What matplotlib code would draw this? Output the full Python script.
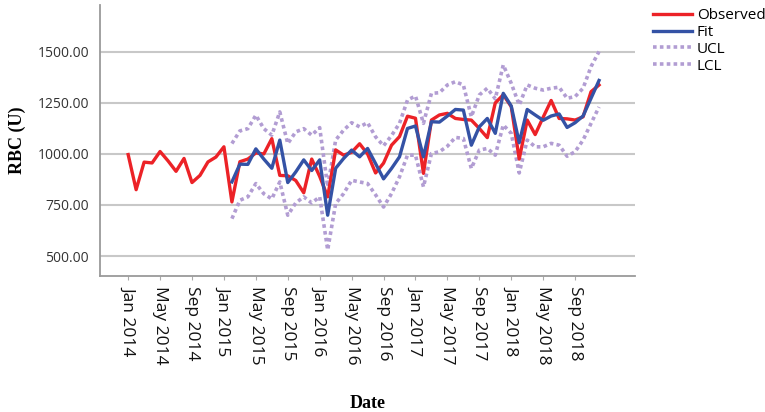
import numpy as np
import matplotlib.pyplot as plt

# monthly data, Jan 2014 .. Dec 2018
months = np.arange(60)
observed = [997, 825, 960, 956, 1012, 966, 915, 978, 860, 895, 961, 985,
            1035, 765, 962, 975, 1005, 1000, 1075, 895, 893, 870, 810, 975,
            890, 790, 1020, 994, 1008, 1050, 1000, 907, 955, 1043, 1085, 1185,
            1175, 905, 1166, 1191, 1199, 1174, 1169, 1166, 1125, 1080, 1250, 1290,
            1232, 975, 1166, 1095, 1180, 1262, 1174, 1172, 1166, 1182, 1305, 1338]
# model fit and limits start Feb 2015 (month 13)
fit_start = 13
fit = [863, 950, 949, 1025, 975, 930, 1068, 860, 912, 971, 919,
       971, 700, 930, 978, 1019, 986, 1027, 953, 878, 929, 986, 1125,
       1137, 986, 1158, 1156, 1186, 1218, 1215, 1043, 1133, 1174, 1101, 1297,
       1235, 1055, 1218, 1191, 1165, 1186, 1196, 1130, 1153, 1186, 1273, 1360]
ucl = [1051, 1113, 1124, 1190, 1124, 1092, 1206, 1051, 1108, 1124, 1092,
       1129, 840, 1068, 1117, 1153, 1133, 1153, 1084, 1040, 1090, 1150, 1264,
       1284, 1150, 1297, 1300, 1338, 1354, 1338, 1182, 1289, 1322, 1270, 1436,
       1346, 1240, 1338, 1322, 1313, 1322, 1327, 1273, 1281, 1322, 1428, 1502]
lcl = [683, 773, 790, 855, 805, 780, 863, 700, 760, 790, 760,
       790, 530, 757, 806, 871, 863, 855, 800, 740, 806, 888, 994,
       994, 839, 1002, 1011, 1038, 1081, 1076, 929, 1019, 1027, 994, 1142,
       1101, 907, 1068, 1035, 1035, 1052, 1043, 989, 1011, 1068, 1150, 1230]

tick_pos = np.arange(0, 60, 4)
tick_labels = ['Jan 2014', 'May 2014', 'Sep 2014', 'Jan 2015', 'May 2015', 'Sep 2015',
               'Jan 2016', 'May 2016', 'Sep 2016', 'Jan 2017', 'May 2017', 'Sep 2017',
               'Jan 2018', 'May 2018', 'Sep 2018']
y_ticks = [500, 750, 1000, 1250, 1500]

plt.rcParams['font.family'] = ['Open Sans', 'DejaVu Sans']

fig = plt.figure(figsize=(7.65, 4.12), dpi=100)
ax = fig.add_axes([0.131, 0.330, 0.699, 0.658])

fm = months[fit_start:]
purple = '#b29dd3'
ax.plot(fm, ucl, color=purple, lw=2.6, linestyle=(0, (1, 0.9)), label='UCL', zorder=2)
ax.plot(fm, lcl, color=purple, lw=2.6, linestyle=(0, (1, 0.9)), label='LCL', zorder=2)
ax.plot(months, observed, color='#ec2227', lw=2.4, label='Observed', zorder=3)
ax.plot(fm, fit, color='#3452a5', lw=2.4, label='Fit', zorder=4)

ax.set_xlim(-3.5, 63.5)
ax.set_ylim(402, 1730)
ax.set_yticks(y_ticks)
ax.set_yticklabels(['%.2f' % v for v in y_ticks], fontsize=10, color='#333333')
ax.set_xticks(tick_pos)
ax.set_xticklabels(tick_labels, rotation=270, fontsize=12.5, color='#111111')
ax.tick_params(axis='y', length=0, pad=8)
ax.tick_params(axis='x', length=3, color='#aaaaaa', pad=4)

ax.grid(axis='y', color='#c8c8c8', lw=1.5)
ax.set_axisbelow(True)
for s in ['top', 'right']:
    ax.spines[s].set_visible(False)
for s in ['left', 'bottom']:
    ax.spines[s].set_color('#9a9a9a')
    ax.spines[s].set_linewidth(1.3)

ax.set_ylabel('RBC (U)', family='Liberation Serif', fontweight='bold', fontsize=13, labelpad=8)
ax.set_xlabel('Date', family='Liberation Serif', fontweight='bold', fontsize=13, labelpad=22)

h, l = ax.get_legend_handles_labels()
order = [2, 3, 0, 1]
fig.legend([h[i] for i in order], [l[i] for i in order], loc='upper left',
           bbox_to_anchor=(0.845, 0.995), frameon=False, fontsize=11,
           handlelength=2.6, labelspacing=0.12, handletextpad=0.3, borderaxespad=0)

fig.savefig('out.png', dpi=100)
